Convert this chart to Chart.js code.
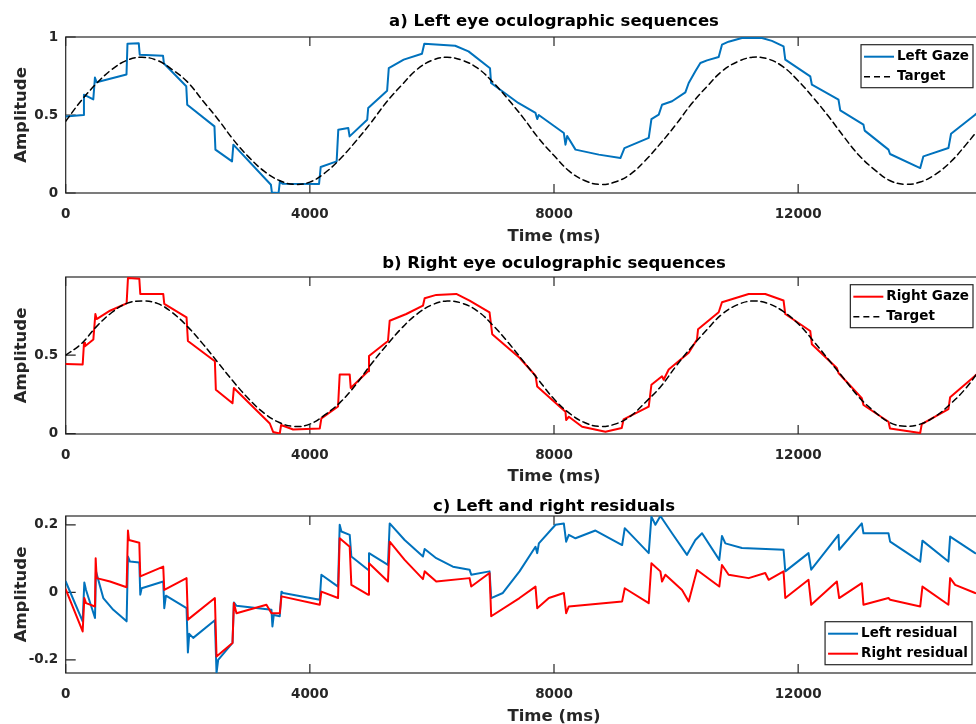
<!DOCTYPE html>
<html>
<head>
<meta charset="utf-8">
<script src="https://cdn.jsdelivr.net/npm/chart.js@4.4.1/dist/chart.umd.min.js"></script>
<style>
  html, body { margin: 0; padding: 0; background: #fff; }
  body { width: 976px; height: 724px; overflow: hidden; position: relative; }
  canvas { position: absolute; left: 0; }
</style>
</head>
<body>
<canvas id="chartA" width="1110" height="254" style="top:-3px"></canvas>
<canvas id="chartB" width="1110" height="255" style="top:237px"></canvas>
<canvas id="chartC" width="1110" height="255" style="top:476px"></canvas>
<script>
// ---- data (time in ms) ----
var xTicks = [0, 4000, 8000, 12000, 16000];
var yTicksA = [0, 0.5, 1];
var yTicksB = [0, 0.5];
var yTicksC = [-0.2, 0, 0.2];

var targetT = [0,250,500,750,1000,1250,1500,1750,2000,2250,2500,2750,3000,3250,3500,3750,4000,4250,4500,4750,
  5000,5250,5500,5750,6000,6250,6500,6750,7000,7250,7500,7750,8000,8250,8500,8750,9000,9250,9500,9750,
  10000,10250,10500,10750,11000,11250,11500,11750,12000,12250,12500,12750,13000,13250,13500,13750,14000,14250,14500,14750,15000];
var targetLeft = [0.46,0.59,0.70,0.79,0.85,0.87,0.85,0.79,0.71,0.59,0.47,0.34,0.23,0.14,0.08,0.055,0.07,0.13,0.22,0.33,
  0.45,0.58,0.69,0.79,0.85,0.87,0.85,0.80,0.71,0.60,0.48,0.35,0.24,0.14,0.08,0.055,0.07,0.12,0.21,0.32,
  0.44,0.57,0.68,0.78,0.84,0.87,0.86,0.81,0.72,0.61,0.49,0.36,0.24,0.15,0.08,0.056,0.07,0.12,0.20,0.31,0.43];
var targetRight = [0.50,0.57,0.68,0.77,0.83,0.845,0.83,0.77,0.68,0.57,0.45,0.33,0.22,0.13,0.07,0.045,0.06,0.12,0.20,0.31,
  0.44,0.56,0.67,0.76,0.82,0.845,0.83,0.78,0.69,0.58,0.46,0.34,0.22,0.13,0.07,0.045,0.06,0.11,0.20,0.30,
  0.43,0.55,0.66,0.76,0.82,0.845,0.83,0.78,0.70,0.59,0.47,0.35,0.23,0.14,0.07,0.046,0.06,0.11,0.19,0.29,0.42];

var leftGazeT = [0,288,299,452,479,506,996,1012,1197,1213,1594,1610,1975,1991,2437,2453,2725,2747,3362,3378,
  3487,3509,3552,4151,4178,4439,4466,4629,4651,4940,4956,5266,5293,5538,5837,5875,6381,6599,6952,6969,
  7415,7697,7725,7750,8161,8188,8216,8352,8734,9088,9154,9552,9596,9716,9770,9934,10152,10207,10316,10398,10507,10698,
  10752,10860,11079,11407,11570,11761,11789,12198,12225,12661,12690,13070,13090,13480,13505,14000,14052,14462,14505,14900,15000];
var leftGazeV = [0.49,0.50,0.63,0.60,0.74,0.71,0.76,0.957,0.96,0.887,0.88,0.83,0.684,0.566,0.427,0.278,0.203,0.31,0.053,0.004,
  0,0.075,0.06,0.058,0.167,0.203,0.406,0.417,0.363,0.47,0.545,0.656,0.80,0.855,0.893,0.957,0.944,0.908,0.80,0.705,
  0.577,0.513,0.474,0.50,0.385,0.31,0.365,0.278,0.246,0.224,0.288,0.353,0.474,0.502,0.566,0.588,0.645,0.705,0.78,0.833,0.85,0.872,
  0.951,0.97,0.994,0.994,0.975,0.94,0.855,0.748,0.694,0.598,0.53,0.438,0.40,0.278,0.25,0.16,0.235,0.288,0.38,0.502,0.53];

var rightGazeT = [0,278,300,316,453,486,507,726,998,1020,1206,1222,1598,1615,1980,2002,2444,2460,2733,2755,
  3344,3398,3507,3529,3726,4162,4189,4462,4489,4653,4670,4953,4969,5280,5308,5580,5853,5881,6071,6399,
  6617,6944,6988,7435,7697,7725,8188,8199,8243,8461,8843,9110,9140,9552,9596,9770,9797,9879,10207,10343,
  10360,10698,10752,11189,11461,11761,11789,12198,12225,12634,12661,13043,13070,13480,13505,14000,14025,14462,14490,14900,15000];
var rightGazeV = [0.444,0.44,0.579,0.557,0.60,0.762,0.73,0.783,0.83,0.991,0.987,0.89,0.89,0.826,0.74,0.59,0.461,0.279,0.193,0.29,
  0.064,0.01,0,0.054,0.026,0.032,0.097,0.172,0.376,0.376,0.29,0.397,0.494,0.59,0.719,0.762,0.815,0.863,0.884,0.89,
  0.848,0.773,0.633,0.483,0.369,0.30,0.139,0.086,0.107,0.043,0.011,0.035,0.09,0.172,0.311,0.365,0.343,0.408,0.515,0.60,
  0.665,0.773,0.837,0.89,0.89,0.848,0.762,0.654,0.569,0.418,0.386,0.225,0.182,0.075,0.032,0.004,0.06,0.155,0.232,0.369,0.40];

var leftResT = [0,278,305,333,480,496,616,780,998,1020,1053,1206,1222,1244,1598,1615,1642,1980,2002,2024,
  2089,2444,2471,2498,2733,2755,2798,3371,3387,3409,3507,3535,3562,4162,4189,4462,4489,4517,4653,4680,
  4953,4969,5280,5308,5553,5853,5881,6071,6344,6617,6644,6944,6971,7162,7435,7697,7725,7752,8025,8161,
  8199,8243,8352,8679,9116,9159,9552,9596,9661,9743,9934,10179,10316,10425,10708,10752,10807,11079,11761,11789,
  12170,12214,12661,12672,13043,13070,13480,13507,14000,14036,14462,14490,14900,15000];
var leftResV = [0.032,-0.086,0.029,0.007,-0.076,0.062,-0.017,-0.052,-0.086,0.106,0.091,0.088,-0.007,0.012,0.032,-0.047,-0.010,-0.047,-0.178,-0.123,
  -0.135,-0.083,-0.239,-0.20,-0.150,-0.030,-0.040,-0.052,-0.101,-0.067,-0.071,0.002,-0.002,-0.022,0.052,0.017,0.20,0.18,0.170,0.106,
  0.067,0.116,0.081,0.204,0.155,0.106,0.128,0.101,0.076,0.067,0.052,0.062,-0.017,-0.002,0.062,0.135,0.116,0.145,0.20,0.204,
  0.150,0.170,0.160,0.183,0.140,0.190,0.116,0.224,0.20,0.226,0.175,0.111,0.155,0.175,0.096,0.167,0.145,0.131,0.126,0.062,
  0.116,0.067,0.170,0.126,0.204,0.175,0.175,0.150,0.091,0.153,0.091,0.165,0.116,0.11];

var rightResT = [0,278,305,333,480,491,507,726,998,1020,1036,1206,1222,1598,1615,1980,2002,2444,2471,2733,
  2755,2798,3289,3371,3507,3535,4162,4189,4462,4489,4653,4680,4953,4969,5280,5308,5553,5853,5881,6071,
  6617,6644,6944,6971,7435,7697,7725,7916,8161,8199,8243,9116,9159,9552,9596,9743,9770,9825,10098,10207,
  10343,10708,10752,10861,11189,11461,11516,11761,11789,12170,12214,12634,12672,13043,13070,13480,13507,14000,14036,14462,
  14490,14572,14900,15000];
var rightResV = [0.009,-0.116,-0.017,-0.032,-0.042,0.101,0.042,0.032,0.015,0.183,0.155,0.147,0.047,0.076,0.007,0.042,-0.081,-0.017,-0.190,-0.150,
  -0.032,-0.062,-0.037,-0.062,-0.062,-0.012,-0.037,0.002,-0.017,0.160,0.135,0.022,-0.007,0.086,0.032,0.150,0.096,0.039,0.062,0.032,
  0.042,0.017,0.057,-0.071,-0.017,0.017,-0.047,-0.017,-0.002,-0.062,-0.042,-0.027,0.012,-0.032,0.086,0.062,0.032,0.052,0.007,-0.027,
  0.066,0.017,0.081,0.052,0.042,0.057,0.037,0.062,-0.017,0.037,-0.037,0.032,-0.017,0.027,-0.037,-0.017,-0.022,-0.042,0.017,-0.037,
  0.042,0.022,-0.002,-0.005];

var BLUE = '#0072BD';
var RED = '#FF0000';
var AXIS = '#262626';
var FONT = "'DejaVu Sans', sans-serif";

Chart.defaults.font.family = FONT;
Chart.defaults.font.weight = 'bold';

function pts(t, v) {
  return t.map(function (x, i) { return {x: x, y: v[i]}; });
}

// matlab style box round the axes, ticks pointing inwards
var axesBox = {
  id: 'axesBox',
  beforeDatasetsDraw: function (chart) {
    var ctx = chart.ctx, a = chart.chartArea;
    var xs = chart.scales.x, ys = chart.scales.y;
    ctx.save();
    ctx.strokeStyle = AXIS;
    ctx.lineWidth = 1.2;
    ctx.beginPath();
    xs.ticks.forEach(function (t) {
      var p = xs.getPixelForValue(t.value);
      ctx.moveTo(p, a.bottom); ctx.lineTo(p, a.bottom - 9);
      ctx.moveTo(p, a.top); ctx.lineTo(p, a.top + 9);
    });
    ys.ticks.forEach(function (t) {
      var p = ys.getPixelForValue(t.value);
      ctx.moveTo(a.left, p); ctx.lineTo(a.left + 10, p);
      ctx.moveTo(a.right, p); ctx.lineTo(a.right - 10, p);
    });
    ctx.stroke();
    ctx.strokeRect(a.left, a.top, a.right - a.left, a.bottom - a.top);
    ctx.restore();
  }
};

// legend with a frame, inside the axes
var boxLegend = {
  id: 'boxLegend',
  afterDraw: function (chart, args, opts) {
    var ctx = chart.ctx, a = chart.chartArea;
    var sets = chart.data.datasets;
    ctx.save();
    ctx.font = 'bold ' + opts.size + 'px ' + FONT;
    var w = 0;
    sets.forEach(function (d) { w = Math.max(w, ctx.measureText(d.label).width); });
    var bw = 3 + 30 + 3 + w + 4, bh = 43;
    var x = opts.right - bw;
    var y = opts.top != null ? a.top + opts.top : a.bottom - opts.bottom - bh;
    ctx.fillStyle = '#fff';
    ctx.fillRect(x, y, bw, bh);
    ctx.strokeStyle = AXIS;
    ctx.lineWidth = 1.2;
    ctx.strokeRect(x, y, bw, bh);
    sets.forEach(function (d, i) {
      var cy = y + 12 + i * 20;
      ctx.beginPath();
      ctx.setLineDash(d.borderDash || []);
      ctx.strokeStyle = d.borderColor;
      ctx.lineWidth = d.borderWidth;
      ctx.moveTo(x + 3, cy); ctx.lineTo(x + 33, cy);
      ctx.stroke();
      ctx.setLineDash([]);
      ctx.fillStyle = '#000';
      ctx.textBaseline = 'middle';
      ctx.fillText(d.label, x + 36, cy);
    });
    ctx.restore();
  }
};

function panel(id, o) {
  return new Chart(id, {
    type: 'line',
    data: { datasets: o.datasets },
    options: {
      responsive: false,
      animation: false,
      devicePixelRatio: 1,
      layout: { padding: { left: 0, right: 1110 - 1042.3, top: 0, bottom: 0 } },
      elements: {
        point: { radius: 0 },
        line: { tension: 0, borderJoinStyle: 'round', borderCapStyle: 'round' }
      },
      plugins: {
        legend: { display: false },
        tooltip: { enabled: false },
        title: {
          display: true, text: o.title, fullSize: false, color: '#000',
          font: { size: 16.5, weight: 'bold', lineHeight: 1 },
          padding: o.titlePad
        },
        boxLegend: o.legend
      },
      scales: {
        x: {
          type: 'linear', min: 0, max: 16000,
          grid: { display: false, drawTicks: false }, border: { display: false },
          afterBuildTicks: function (s) { s.ticks = xTicks.map(function (v) { return {value: v}; }); },
          afterFit: function (s) { s.height = 58; },
          ticks: {
            color: AXIS, font: { size: 13.5, weight: 'bold' }, padding: 13.2,
            maxRotation: 0, autoSkip: false,
            callback: function (v) { return String(v); }
          },
          title: {
            display: true, text: 'Time (ms)', color: AXIS,
            font: { size: 16.5, weight: 'bold', lineHeight: 1 },
            padding: { top: 0, bottom: o.xlabPad }
          }
        },
        y: {
          min: o.ymin, max: o.ymax,
          grid: { display: false, drawTicks: false }, border: { display: false },
          afterBuildTicks: function (s) { s.ticks = o.yTicks.map(function (v) { return {value: v}; }); },
          afterFit: function (s) { s.width = 65.7; },
          ticks: {
            color: AXIS, font: { size: 13.5, weight: 'bold' }, padding: 7.5,
            callback: function (v) { return String(v); }
          },
          title: {
            display: true, text: 'Amplitude', color: AXIS,
            font: { size: 16.5, weight: 'bold', lineHeight: 1 },
            padding: { top: 13.25, bottom: 0 }
          }
        }
      }
    },
    plugins: [axesBox, boxLegend]
  });
}

panel('chartA', {
  title: 'a) Left eye oculographic sequences',
  titlePad: { top: 16.75, bottom: 6.75 },
  xlabPad: 5.75,
  ymin: 0, ymax: 1, yTicks: yTicksA,
  legend: { right: 973, top: 7.7, size: 13.5 },
  datasets: [
    { label: 'Left Gaze', data: pts(leftGazeT, leftGazeV), borderColor: BLUE, borderWidth: 2, order: 2 },
    { label: 'Target', data: pts(targetT, targetLeft), borderColor: '#000', borderWidth: 1.5, borderDash: [6, 4], tension: 0.4, order: 1 }
  ]
});

panel('chartB', {
  title: 'b) Right eye oculographic sequences',
  titlePad: { top: 18.45, bottom: 5.05 },
  xlabPad: 7.15,
  ymin: -0.003, ymax: 0.998, yTicks: yTicksB,
  legend: { right: 973, top: 7.7, size: 13.5 },
  datasets: [
    { label: 'Right Gaze', data: pts(rightGazeT, rightGazeV), borderColor: RED, borderWidth: 2, order: 2 },
    { label: 'Target', data: pts(targetT, targetRight), borderColor: '#000', borderWidth: 1.5, borderDash: [6, 4], tension: 0.4, order: 1 }
  ]
});

panel('chartC', {
  title: 'c) Left and right residuals',
  titlePad: { top: 22.25, bottom: 1.25 },
  xlabPad: 5.75,
  ymin: -0.239, ymax: 0.226, yTicks: yTicksC,
  legend: { right: 972, bottom: 8.3, size: 13.5 },
  datasets: [
    { label: 'Left residual', data: pts(leftResT, leftResV), borderColor: BLUE, borderWidth: 2, order: 2 },
    { label: 'Right residual', data: pts(rightResT, rightResV), borderColor: RED, borderWidth: 2, order: 1 }
  ]
});
</script>
</body>
</html>
